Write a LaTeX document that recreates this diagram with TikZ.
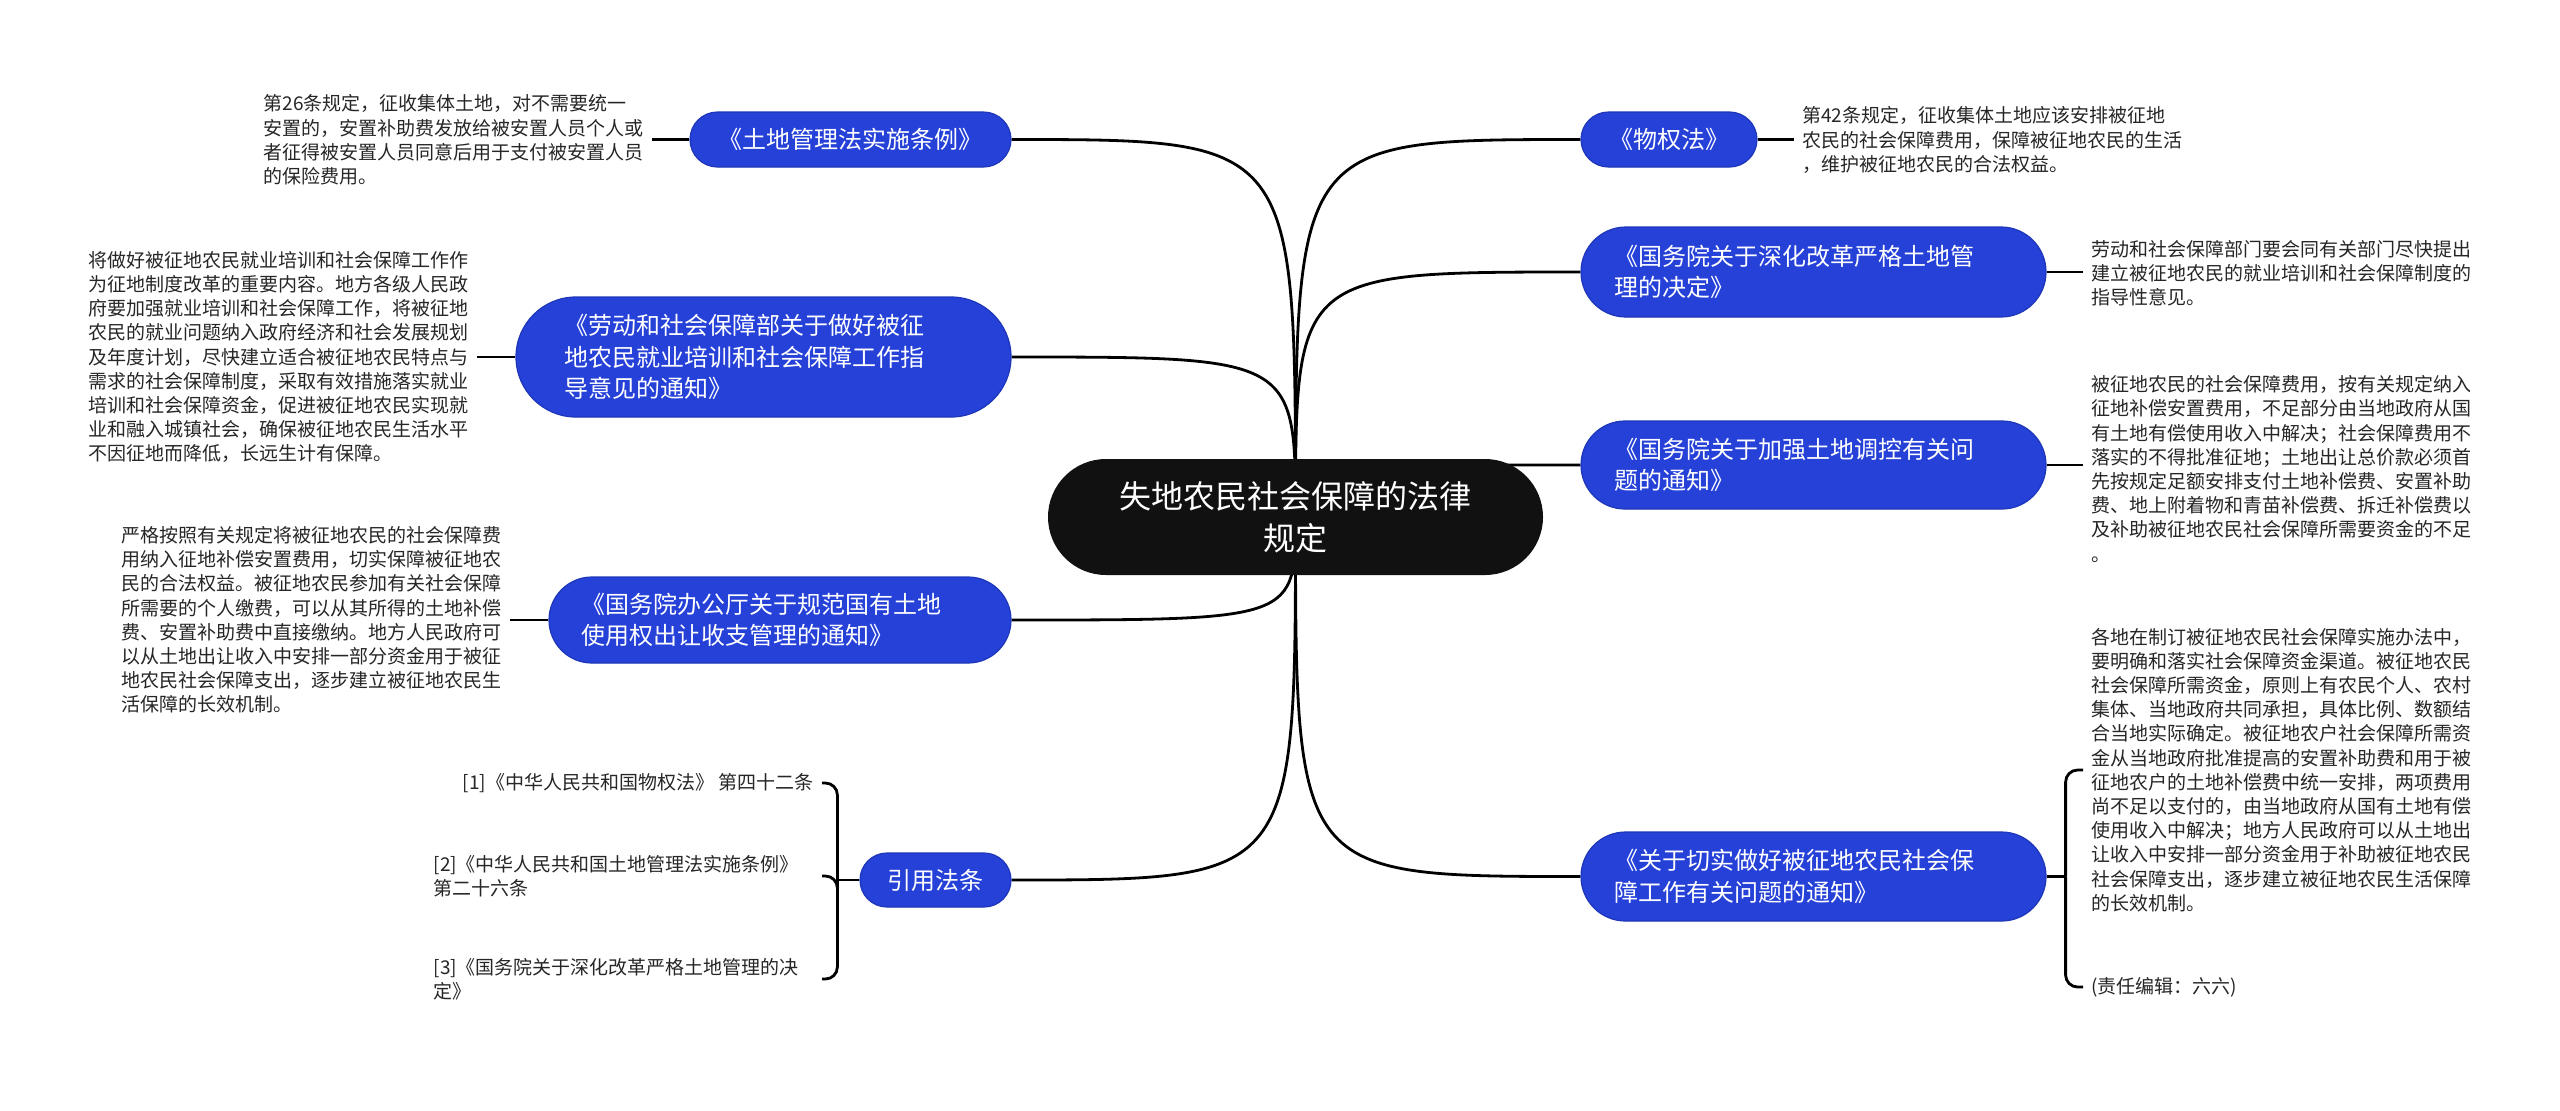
\documentclass[tikz,border=0pt]{standalone}
\usepackage{fontspec}
\setmainfont{Noto Sans CJK SC}
\usetikzlibrary{backgrounds}
\definecolor{nblue}{HTML}{2541D8}
\definecolor{nbord}{HTML}{1E36B8}
\definecolor{rootc}{HTML}{111111}
\definecolor{leaftext}{HTML}{262626}
\begin{document}
\begin{tikzpicture}[x=0.5pt,y=-0.5pt,
  conn/.style={line width=1.4pt, black},
  branch/.style={fill=nblue, draw=nbord, line width=0.6pt, text=white,
    font=\fontsize{12}{15.75}\selectfont, inner sep=0pt},
  leaf/.style={font=\fontsize{9.5}{12.1}\selectfont, align=left,
    inner xsep=4pt, inner ysep=2pt, text=leaftext}]
\useasboundingbox (0,0) rectangle (2560,1110);

% root
\node[fill=rootc, text=white, rounded corners=29pt, minimum width=247.5pt,
  minimum height=58pt, align=center, font=\fontsize{16}{21}\selectfont,
  inner sep=0pt] (root) at (1295.5,517) {失地农民社会保障的法律\\规定};

% right branches
\node[branch, rounded corners=13.75pt, minimum width=88pt, minimum height=27.5pt]
  (n1) at (1669,139.5) {《物权法》};
\node[branch, rounded corners=22.5pt, minimum width=232.5pt, minimum height=45pt,
  text width=199pt, align=left] (n2) at (1813.5,272)
  {《国务院关于深化改革严格土地管\\理的决定》};
\node[branch, rounded corners=22pt, minimum width=232.5pt, minimum height=44pt,
  text width=199pt, align=left] (n3) at (1813.5,465)
  {《国务院关于加强土地调控有关问\\题的通知》};
\node[branch, rounded corners=22.25pt, minimum width=232.5pt, minimum height=44.5pt,
  text width=199pt, align=left] (n4) at (1813.5,876.5)
  {《关于切实做好被征地农民社会保\\障工作有关问题的通知》};

% left branches
\node[branch, rounded corners=13.75pt, minimum width=160.5pt, minimum height=27.5pt]
  (n5) at (850.5,139.5) {《土地管理法实施条例》};
\node[branch, rounded corners=30pt, minimum width=247.5pt, minimum height=60pt,
  text width=199pt, align=left] (n6) at (763.5,357)
  {《劳动和社会保障部关于做好被征\\地农民就业培训和社会保障工作指\\导意见的通知》};
\node[branch, rounded corners=21.5pt, minimum width=231pt, minimum height=43pt,
  text width=199pt, align=left] (n7) at (780,620)
  {《国务院办公厅关于规范国有土地\\使用权出让收支管理的通知》};
\node[branch, rounded corners=13.5pt, minimum width=75.5pt, minimum height=27pt]
  (n8) at (935.5,880) {引用法条};

% leaves right
\node[leaf, anchor=west] (l1) at (1794,140)
  {第42条规定，征收集体土地应该安排被征地\\农民的社会保障费用，保障被征地农民的生活\\，维护被征地农民的合法权益。};
\node[leaf, anchor=west] (l2) at (2083,273)
  {劳动和社会保障部门要会同有关部门尽快提出\\建立被征地农民的就业培训和社会保障制度的\\指导性意见。};
\node[leaf, anchor=west] (l3) at (2083,469)
  {被征地农民的社会保障费用，按有关规定纳入\\征地补偿安置费用，不足部分由当地政府从国\\有土地有偿使用收入中解决；社会保障费用不\\落实的不得批准征地；土地出让总价款必须首\\先按规定足额安排支付土地补偿费、安置补助\\费、地上附着物和青苗补偿费、拆迁补偿费以\\及补助被征地农民社会保障所需要资金的不足\\。};
\node[leaf, anchor=west] (l4a) at (2083,770)
  {各地在制订被征地农民社会保障实施办法中，\\要明确和落实社会保障资金渠道。被征地农民\\社会保障所需资金，原则上有农民个人、农村\\集体、当地政府共同承担，具体比例、数额结\\合当地实际确定。被征地农户社会保障所需资\\金从当地政府批准提高的安置补助费和用于被\\征地农户的土地补偿费中统一安排，两项费用\\尚不足以支付的，由当地政府从国有土地有偿\\使用收入中解决；地方人民政府可以从土地出\\让收入中安排一部分资金用于补助被征地农民\\社会保障支出，逐步建立被征地农民生活保障\\的长效机制。};
\node[leaf, anchor=west] (l4b) at (2083,987) {(责任编辑：六六)};

% leaves left
\node[leaf, anchor=east] (l5) at (652,140)
  {第26条规定，征收集体土地，对不需要统一\\安置的，安置补助费发放给被安置人员个人或\\者征得被安置人员同意后用于支付被安置人员\\的保险费用。};
\node[leaf, anchor=east] (l6) at (477,357)
  {将做好被征地农民就业培训和社会保障工作作\\为征地制度改革的重要内容。地方各级人民政\\府要加强就业培训和社会保障工作，将被征地\\农民的就业问题纳入政府经济和社会发展规划\\及年度计划，尽快建立适合被征地农民特点与\\需求的社会保障制度，采取有效措施落实就业\\培训和社会保障资金，促进被征地农民实现就\\业和融入城镇社会，确保被征地农民生活水平\\不因征地而降低，长远生计有保障。};
\node[leaf, anchor=east] (l7) at (510,620)
  {严格按照有关规定将被征地农民的社会保障费\\用纳入征地补偿安置费用，切实保障被征地农\\民的合法权益。被征地农民参加有关社会保障\\所需要的个人缴费，可以从其所得的土地补偿\\费、安置补助费中直接缴纳。地方人民政府可\\以从土地出让收入中安排一部分资金用于被征\\地农民社会保障支出，逐步建立被征地农民生\\活保障的长效机制。};

% citations
\node[leaf, anchor=east] (c1) at (822,783) {[1]《中华人民共和国物权法》 第四十二条};
\node[leaf, anchor=east, text width=190pt] (c2) at (822,876)
  {[2]《中华人民共和国土地管理法实施条例》\\第二十六条};
\node[leaf, anchor=east, text width=190pt] (c3) at (822,979)
  {[3]《国务院关于深化改革严格土地管理的决\\定》};

% connectors from the root, behind the nodes
\begin{scope}[on background layer]
  \fill[white] (0,0) rectangle (2560,1110);
  \draw[conn] (root.center) .. controls (root.center |- n1.west) .. (n1.west);
  \draw[conn] (root.center) .. controls (root.center |- n2.west) .. (n2.west);
  \draw[conn] (root.center) .. controls (root.center |- n3.west) .. (n3.west);
  \draw[conn] (root.center) .. controls (root.center |- n4.west) .. (n4.west);
  \draw[conn] (root.center) .. controls (root.center |- n5.east) .. (n5.east);
  \draw[conn] (root.center) .. controls (root.center |- n6.east) .. (n6.east);
  \draw[conn] (root.center) .. controls (root.center |- n7.east) .. (n7.east);
  \draw[conn] (root.center) .. controls (root.center |- n8.east) .. (n8.east);
\end{scope}

\draw[conn] (n1.east) -- (n1.east -| l1.west);
\draw[conn] (n2.east) -- (n2.east -| l2.west);
\draw[conn] (n3.east) -- (n3.east -| l3.west);
\draw[conn] (n5.west) -- (n5.west -| l5.east);
\draw[conn] (n6.west) -- (n6.west -| l6.east);
\draw[conn] (n7.west) -- (n7.west -| l7.east);

\draw[conn] (n4.east) -- ++(19,0) coordinate (j4);
\draw[conn, rounded corners=6pt] (j4) |- (l4a.west);
\draw[conn, rounded corners=6pt] (j4) |- (l4b.west);

\draw[conn] (n8.west) -- ++(-22,0) coordinate (j8);
\draw[conn, rounded corners=6pt] (j8) |- (c1.east);
\draw[conn, rounded corners=6pt] (j8) |- (c2.east);
\draw[conn, rounded corners=6pt] (j8) |- (c3.east);
\end{tikzpicture}
\end{document}
